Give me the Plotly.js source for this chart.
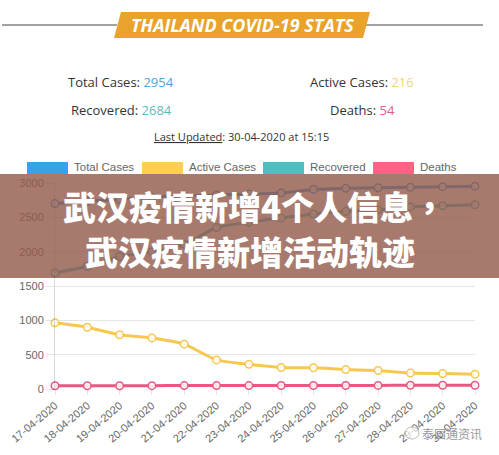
<!DOCTYPE html>
<html>
<head>
<meta charset="utf-8">
<script src="https://cdn.plot.ly/plotly-3.0.1.min.js"></script>
<style>html,body{margin:0;padding:0;background:#fff;}#chart{width:499px;height:455px;}</style>
</head>
<body>
<div id="chart"></div>
<script>
const dates = ['17-04-2020','18-04-2020','19-04-2020','20-04-2020','21-04-2020','22-04-2020','23-04-2020','24-04-2020','25-04-2020','26-04-2020','27-04-2020','28-04-2020','29-04-2020','30-04-2020'];
const totalCases = [2700, 2733, 2765, 2792, 2811, 2826, 2839, 2854, 2907, 2922, 2931, 2938, 2947, 2954];
const activeCases = [964, 899, 790, 744, 653, 424, 359, 313, 309, 284, 270, 232, 225, 216];
const recovered = [1689, 1787, 1928, 1999, 2108, 2352, 2430, 2490, 2547, 2587, 2609, 2652, 2668, 2684];
const deaths = [47, 47, 47, 49, 50, 50, 50, 51, 51, 51, 52, 54, 54, 54];
const seriesNames = ['Total Cases', 'Active Cases', 'Recovered', 'Deaths'];
const seriesColors = ['rgb(54,162,235)', 'rgb(246,200,80)', 'rgb(75,192,192)', 'rgb(232,88,128)'];
const legendColors = ['rgb(54,162,235)', 'rgb(255,205,86)', 'rgb(75,192,192)', 'rgb(255,99,132)'];
const summary = {total: '2954', active: '216', recovered: '2684', deaths: '54'};
const overlayLine1 = '武汉疫情新增4个人信息<span style="font-family:\'Noto Sans CJK TC\'">，</span>';
const overlayLine2 = '武汉疫情新增活动轨迹';
const watermark = '泰国通资讯';

const W = 499, H = 455;
const M = {l: 55, r: 24, t: 183, b: 66};
const PW = W - M.l - M.r, PH = H - M.t - M.b;
const px = x => (x - M.l) / PW;
const py = y => (H - M.b - y) / PH;

const allSeries = [totalCases, activeCases, recovered, deaths];
const traces = allSeries.map((vals, i) => ({
  type: 'scatter', mode: 'lines+markers', name: seriesNames[i],
  x: dates, y: vals,
  line: {color: seriesColors[i], width: 3, shape: 'spline', smoothing: 0.6},
  marker: {size: 7.5, color: 'rgba(255,255,255,0.85)', line: {color: seriesColors[i], width: 1.5}},
  cliponaxis: false, showlegend: false
}));

const shapes = [];
const annotations = [];
const P = (x, y) => px(x) + ',' + py(y);
function note(x, y, text, font, extra) {
  annotations.push(Object.assign({xref: 'paper', yref: 'paper', x: px(x), y: py(y), text: text, showarrow: false,
    xanchor: 'center', yanchor: 'middle', font: font}, extra || {}));
}
// title banner
shapes.push({type: 'line', xref: 'paper', yref: 'paper', x0: px(2), x1: px(117), y0: py(25), y1: py(25), line: {color: '#444', width: 1}});
shapes.push({type: 'line', xref: 'paper', yref: 'paper', x0: px(366), x1: px(483), y0: py(25), y1: py(25), line: {color: '#444', width: 1}});
shapes.push({type: 'path', xref: 'paper', yref: 'paper', path: 'M' + P(121, 12) + ' L' + P(370, 12) + ' L' + P(363, 38) + ' L' + P(114, 38) + ' Z', fillcolor: '#e9a22a', line: {width: 0}});
note(242, 25, 'THAILAND COVID-19 STATS', {family: 'Open Sans', size: 18, color: '#fff', weight: 'bold', style: 'italic'});
// stats
const statFont = {family: 'Open Sans', size: 13, color: '#333'};
note(121, 82, 'Total Cases: <span style="color:#4fa3d9">' + summary.total + '</span>', statFont);
note(362, 82, 'Active Cases: <span style="color:#f3d47a">' + summary.active + '</span>', statFont);
note(121, 110, 'Recovered: <span style="color:#5cbdb9">' + summary.recovered + '</span>', statFont);
note(362, 110, 'Deaths: <span style="color:#e45c8a">' + summary.deaths + '</span>', statFont);
note(241, 136, '<u>Last Updated</u>: 30-04-2020 at 15:15', {family: 'Open Sans', size: 11, color: '#333'});
// legend
const legX = [27, 142, 263, 373];
seriesNames.forEach((n, i) => {
  shapes.push({type: 'rect', xref: 'paper', yref: 'paper', x0: px(legX[i]), x1: px(legX[i] + 41), y0: py(162), y1: py(174), fillcolor: legendColors[i], line: {width: 0}});
  note(legX[i] + 45, 167.5, n, {family: 'Liberation Sans', size: 11.5, color: '#666'}, {xanchor: 'left'});
});
// overlay banner
shapes.push({type: 'rect', xref: 'paper', yref: 'paper', layer: 'above', x0: px(0), x1: px(499), y0: py(174), y1: py(278), fillcolor: 'rgba(146,89,74,0.8)', line: {width: 0}});
const cjkFont = {family: 'Noto Sans CJK SC', size: 33, color: '#fff', weight: 900};
note(254, 206, overlayLine1, cjkFont);
note(250, 251, overlayLine2, cjkFont);
// watermark
shapes.push({type: 'circle', xref: 'paper', yref: 'paper', x0: px(405), x1: px(419), y0: py(427), y1: py(439), line: {color: '#bbb', width: 1}, fillcolor: 'rgba(255,255,255,0.7)'});
note(452, 433, watermark, {family: 'Noto Sans CJK SC', size: 12, color: '#999'});

const layout = {
  width: W, height: H, margin: M,
  paper_bgcolor: '#fff', plot_bgcolor: '#fff',
  showlegend: false,
  font: {family: 'Liberation Sans', size: 11, color: '#666'},
  xaxis: {type: 'category', range: [0, dates.length - 1], showgrid: false, zeroline: false, showline: false,
    ticks: 'outside', ticklen: 5, tickcolor: 'rgba(0,0,0,0.1)', tickangle: -40,
    tickfont: {family: 'Liberation Sans', size: 11, color: '#666'}, fixedrange: true},
  yaxis: {range: [0, 3000], dtick: 500, showgrid: true, gridcolor: 'rgba(0,0,0,0.1)', zeroline: false,
    showline: true, linecolor: 'rgba(0,0,0,0.15)', ticks: 'outside', ticklen: 8, tickcolor: 'rgba(0,0,0,0.1)',
    tickfont: {family: 'Liberation Sans', size: 11, color: '#666'}, fixedrange: true},
  shapes: shapes, annotations: annotations
};
Plotly.newPlot('chart', traces, layout, {displayModeBar: false, staticPlot: true});
</script>
</body>
</html>
